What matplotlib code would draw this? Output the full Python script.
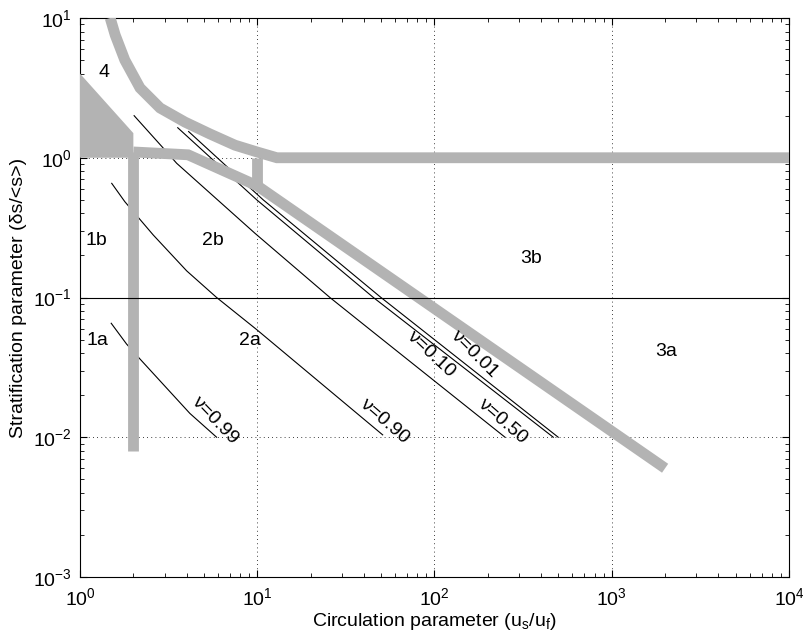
import matplotlib
matplotlib.use('Agg')
import matplotlib.pyplot as plt

plt.rcParams['font.family'] = ['Liberation Sans', 'DejaVu Sans']
plt.rcParams['mathtext.fontset'] = 'custom'
plt.rcParams['mathtext.rm'] = 'Liberation Sans'
plt.rcParams['mathtext.it'] = 'Liberation Sans:italic'
plt.rcParams['mathtext.default'] = 'regular'

# curves of constant nu: (circulation, stratification)
nu099_x = [1.5, 1.83, 2.18, 4.17, 5.9]
nu099_y = [0.0654, 0.0465, 0.0363, 0.0148, 0.01]
nu090_x = [1.51, 1.79, 2.59, 4.0, 5.9, 9.93, 51]
nu090_y = [0.656, 0.485, 0.28, 0.155, 0.1, 0.0589, 0.0104]
nu050_x = [2.02, 2.99, 3.51, 9.71, 25.7, 43.3, 250]
nu050_y = [2.0, 1.15, 0.913, 0.288, 0.1, 0.0589, 0.01]
nu010_x = [3.56, 9.93, 45.2, 468]
nu010_y = [1.64, 0.5, 0.1, 0.01]
nu001_x = [4.1, 10.8, 49.9, 499]
nu001_y = [1.54, 0.5, 0.1, 0.01]

nu_text = ['ν=0.99', 'ν=0.90', 'ν=0.50', 'ν=0.10', 'ν=0.01']
nu_text_x = [5.78, 51.9, 240, 95.2, 167]
nu_text_y = [0.0133, 0.0131, 0.0131, 0.0394, 0.0394]
nu_text_rot = [-46, -41, -41, -43, -45]

# class boundaries (grey)
upper_x = [1.48, 1.58, 1.79, 2.18, 2.83, 3.91, 5.41, 7.49, 9.97, 12.9, 1e4]
upper_y = [10.0, 7.55, 5.0, 3.16, 2.27, 1.80, 1.48, 1.23, 1.10, 1.0, 1.0]
lower_x = [2, 4.07, 10, 2000]
lower_y = [1.1, 1.05, 0.63, 0.006]
bar2_x = [2, 2]
bar2_y = [0.008, 1.1]
bar10_x = [10, 10]
bar10_y = [0.6, 1.0]
wedge_x = [1, 2, 2, 1]
wedge_y = [4.0, 1.5, 1.0, 1.0]
strat_x = [1, 1e4]
strat_y = [0.1, 0.1]

regions = ['4', '1b', '2b', '3b', '1a', '2a', '3a']
region_x = [1.37, 1.23, 5.63, 350, 1.26, 9.1, 2024]
region_y = [4.1, 0.257, 0.257, 0.19, 0.049, 0.049, 0.041]

grey = '#b3b3b3'
fs = 14

fig = plt.figure(figsize=(8.04, 6.38), dpi=100)
ax = fig.add_axes([80/804, 1-577/638, 709/804, 559/638])
ax.set_xscale('log')
ax.set_yscale('log')

for xs, ys in [(nu099_x, nu099_y), (nu090_x, nu090_y), (nu050_x, nu050_y),
               (nu010_x, nu010_y), (nu001_x, nu001_y)]:
    ax.plot(xs, ys, color='k', lw=0.8, zorder=2)

for t, x, y, r in zip(nu_text, nu_text_x, nu_text_y, nu_text_rot):
    ax.text(x, y, t, rotation=r, rotation_mode='anchor', ha='center',
            va='center', fontsize=fs, zorder=5)

ax.fill(wedge_x, wedge_y, color=grey, lw=0, zorder=3)
for xs, ys in [(upper_x, upper_y), (lower_x, lower_y),
               (bar2_x, bar2_y), (bar10_x, bar10_y)]:
    ax.plot(xs, ys, color=grey, lw=7.8, solid_capstyle='butt',
            solid_joinstyle='miter', zorder=3)

ax.plot(strat_x, strat_y, color='k', lw=0.8, zorder=4)

for t, x, y in zip(regions, region_x, region_y):
    ax.text(x, y, t, ha='center', va='center', fontsize=fs, zorder=5)

ax.set_xlim(1, 1e4)
ax.set_ylim(1e-3, 10)
ax.set_axisbelow(True)
ax.grid(True, which='major', linestyle=(0, (1, 4)), color='k', lw=0.6)
ax.tick_params(which='both', direction='in', top=True, right=True,
               labelsize=fs)
ax.tick_params(which='major', length=5)
ax.tick_params(which='minor', length=3)
ax.tick_params(axis='x', pad=7)
ax.tick_params(axis='y', pad=6)
ax.set_xlabel('Circulation parameter (u$_s$/u$_f$)', fontsize=fs, labelpad=2)
ax.set_ylabel('Stratification parameter (δs/<s>)', fontsize=fs, labelpad=4)

fig.savefig('out.png', dpi=100)
